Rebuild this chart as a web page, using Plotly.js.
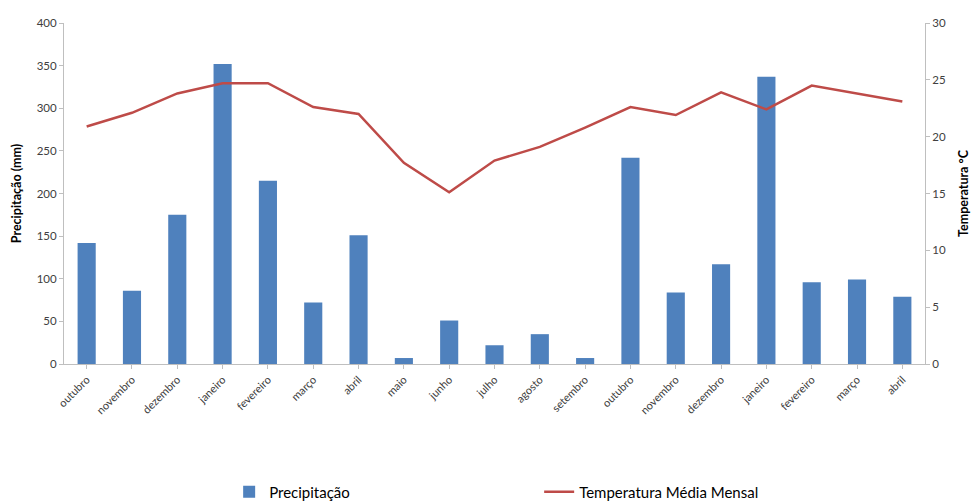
<!DOCTYPE html>
<html><head><meta charset="utf-8">
<script src="https://cdn.plot.ly/plotly-3.0.1.min.js"></script>
<style>html,body{margin:0;padding:0;background:#fff}</style>
</head><body>
<div id="chart" style="width:971px;height:503px"></div>
<script>
const months = ["outubro","novembro","dezembro","janeiro","fevereiro","março","abril","maio","junho","julho","agosto","setembro","outubro","novembro","dezembro","janeiro","fevereiro","março","abril"];
const precipitacao = [142,86,175,352,215,72,151,7,51,22,35,7,242,84,117,337,96,99,79];
const temperatura = [20.9,22.1,23.8,24.7,24.7,22.6,22.0,17.7,15.1,17.9,19.1,20.8,22.6,21.9,23.9,22.4,24.5,23.8,23.1];
const idx = months.map((m,i)=>i);

const font = "Lato, 'Open Sans', sans-serif";
const data = [
  {type:"bar", x:idx, y:precipitacao, name:"Precipitação", marker:{color:"#4f81bd"}, yaxis:"y"},
  {type:"scatter", mode:"lines", x:idx, y:temperatura, name:"Temperatura Média Mensal", line:{color:"#be4b48", width:2.5}, yaxis:"y2"}
];
const layout = {
  width:971, height:503,
  margin:{l:64, r:46, t:23, b:139},
  paper_bgcolor:"#fff", plot_bgcolor:"#fff",
  font:{family:font, color:"#595959", size:11},
  showlegend:true,
  bargap:0.6,
  xaxis:{tickmode:"array", tickvals:idx, ticktext:months, tickangle:-45, range:[-0.5,18.5], automargin:false,
    showline:true, linecolor:"#bfbfbf", ticks:"outside", tickcolor:"#bfbfbf", ticklen:4, tickson:"boundaries",
    showgrid:false, zeroline:false, tickfont:{size:11, color:"#404040"}},
  yaxis:{range:[0,400], dtick:50, automargin:false, showline:true, linecolor:"#bfbfbf", ticks:"outside", tickcolor:"#bfbfbf", ticklen:4,
    showgrid:false, zeroline:false, tickfont:{size:11.5, color:"#404040"},
    title:{text:"<b>Precipitação (mm)</b>", font:{size:12.5, color:"#000"}, standoff:12}},
  yaxis2:{range:[0,30], dtick:5, overlaying:"y", side:"right", automargin:false, showline:true, linecolor:"#bfbfbf", ticks:"outside", tickcolor:"#bfbfbf", ticklen:4,
    showgrid:false, zeroline:false, tickfont:{size:11.5, color:"#404040"},
    title:{text:"<b>Temperatura °C</b>", font:{size:12.5, color:"#000"}, standoff:14}},
  legend:{orientation:"h", xref:"container", yref:"container", x:0.236, xanchor:"left", y:0.022, yanchor:"middle",
    font:{size:15, color:"#000"}, entrywidth:265, entrywidthmode:"pixels", bgcolor:"rgba(0,0,0,0)"}
};
Plotly.newPlot("chart", data, layout, {displayModeBar:false, staticPlot:true});
</script>
</body></html>
